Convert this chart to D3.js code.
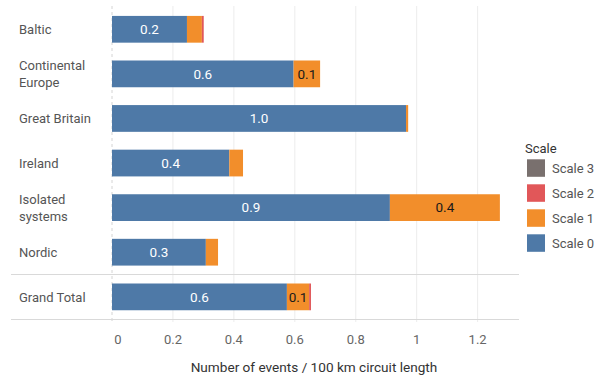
<!DOCTYPE html>
<html>
<head>
<meta charset="utf-8">
<script src="https://cdn.jsdelivr.net/npm/d3@7"></script>
<style>
  html, body { margin: 0; padding: 0; background: #fff; }
  svg { display: block; font-family: Roboto, "Liberation Sans", sans-serif; }
</style>
</head>
<body>
<svg id="chart" width="599" height="376"></svg>
<script>
// Regions (top pane) and the grand total (bottom pane)
const regions = ["Baltic", "Continental Europe", "Great Britain", "Ireland", "Isolated systems", "Nordic"];
const totalLabel = "Grand Total";
const regionLines = [["Baltic"], ["Continental", "Europe"], ["Great Britain"], ["Ireland"], ["Isolated", "systems"], ["Nordic"], ["Grand Total"]];

// Events per 100 km circuit length, by scale
const scale0 = [0.246, 0.596, 0.965, 0.385, 0.912, 0.308, 0.574];
const scale1 = [0.049, 0.087, 0.007, 0.045, 0.361, 0.040, 0.073];
const scale2 = [0.006, 0.000, 0.000, 0.000, 0.000, 0.000, 0.006];
const scale3 = [0.000, 0.000, 0.000, 0.000, 0.000, 0.000, 0.000];

const seriesNames = ["Scale 0", "Scale 1", "Scale 2", "Scale 3"];
const seriesColors = ["#4e79a7", "#f28e2b", "#e15759", "#79706e"];
const xTicks = [0, 0.2, 0.4, 0.6, 0.8, 1.0, 1.2];
const xTickLabels = ["0", "0.2", "0.4", "0.6", "0.8", "1", "1.2"];
const xTitle = "Number of events / 100 km circuit length";
const legendTitle = "Scale";

const rows = regions.concat([totalLabel]);
const table = rows.map((r, i) => ({
  name: r, "Scale 0": scale0[i], "Scale 1": scale1[i], "Scale 2": scale2[i], "Scale 3": scale3[i]
}));
const stacked = d3.stack().keys(seriesNames)(table);

const svg = d3.select("#chart");
const x = d3.scaleLinear().domain([0, 1]).range([112, 416.7]);
const left = 11, right = 519;

// Two panes: regions and grand total
const yTop = d3.scaleBand().domain(regions).range([7, 274.5]).paddingInner(0.4).paddingOuter(0.2);
const yBot = d3.scaleBand().domain([totalLabel]).range([274.5, 319.5]).paddingInner(0.4).paddingOuter(0.2);
const yPos = name => name === totalLabel ? yBot(name) : yTop(name);
const yCenter = name => name === totalLabel ? yBot(name) + yBot.bandwidth() / 2 : yTop(name) + yTop.bandwidth() / 2;
const bw = yTop.bandwidth();

// Vertical gridlines
svg.append("g").selectAll("line").data(xTicks.filter(t => t > 0)).join("line")
  .attr("x1", d => x(d)).attr("x2", d => x(d))
  .attr("y1", 6).attr("y2", 322)
  .attr("stroke", "#ececec").attr("stroke-width", 1);
svg.append("line")
  .attr("x1", x(0)).attr("x2", x(0)).attr("y1", 6).attr("y2", 322)
  .attr("stroke", "#d4d4d4").attr("stroke-width", 1).attr("stroke-dasharray", "3,3");

// Pane separators
[274.5, 319.5].forEach(yy => {
  svg.append("line").attr("x1", left).attr("x2", right).attr("y1", yy).attr("y2", yy)
    .attr("stroke", "#d9d9d9").attr("stroke-width", 1.2);
});

// Stacked bars
const layers = svg.append("g").selectAll("g").data(stacked).join("g")
  .attr("fill", (d, i) => seriesColors[i]);
layers.selectAll("rect").data(d => d).join("rect")
  .attr("x", d => x(d[0]))
  .attr("y", d => yPos(d.data.name))
  .attr("width", d => Math.max(0, x(d[1]) - x(d[0])))
  .attr("height", bw);

// Segment value labels
const fmt = d3.format(".1f");
stacked.forEach((layer, si) => {
  svg.append("g").selectAll("text").data(layer.filter(d => d[1] - d[0] >= 0.06)).join("text")
    .attr("x", d => (x(d[0]) + x(d[1])) / 2)
    .attr("y", d => yCenter(d.data.name))
    .attr("dy", "0.35em")
    .attr("text-anchor", "middle")
    .attr("font-size", 13.5)
    .attr("fill", si === 0 ? "#ffffff" : "#1a1a1a")
    .text(d => fmt(d[1] - d[0]));
});

// Category labels
svg.append("g").selectAll("text").data(rows).join("text")
  .attr("x", 19)
  .attr("y", (d, i) => yCenter(d) - (regionLines[i].length - 1) * 8.5)
  .attr("font-size", 13)
  .attr("fill", "#555")
  .each(function(d, i) {
    const t = d3.select(this);
    regionLines[i].forEach((line, k) => {
      t.append("tspan").attr("x", 19).attr("dy", k === 0 ? "0.35em" : 17).text(line);
    });
  });

// X axis tick labels
svg.append("g").selectAll("text").data(xTicks).join("text")
  .attr("x", (d, i) => x(d) + (i === 0 ? 6 : 0))
  .attr("y", 339)
  .attr("dy", "0.35em")
  .attr("text-anchor", "middle")
  .attr("font-size", 13)
  .attr("fill", "#666")
  .text((d, i) => xTickLabels[i]);

// X axis title
svg.append("text")
  .attr("x", 314).attr("y", 367).attr("dy", "0.35em")
  .attr("text-anchor", "middle")
  .attr("font-size", 13.6)
  .attr("fill", "#333")
  .text(xTitle);

// Legend
const lg = svg.append("g");
lg.append("text").attr("x", 525).attr("y", 148).attr("dy", "0.35em")
  .attr("font-size", 13).attr("fill", "#333").text(legendTitle);
const legendOrder = seriesNames.map((n, i) => i).reverse();
const items = lg.selectAll("g").data(legendOrder).join("g")
  .attr("transform", (d, k) => `translate(527, ${159.3 + k * 25})`);
items.append("rect").attr("width", 18).attr("height", 17.5)
  .attr("fill", d => seriesColors[d]);
items.append("text").attr("x", 25).attr("y", 9).attr("dy", "0.35em")
  .attr("font-size", 13).attr("fill", "#555").text(d => seriesNames[d]);
</script>
</body>
</html>
